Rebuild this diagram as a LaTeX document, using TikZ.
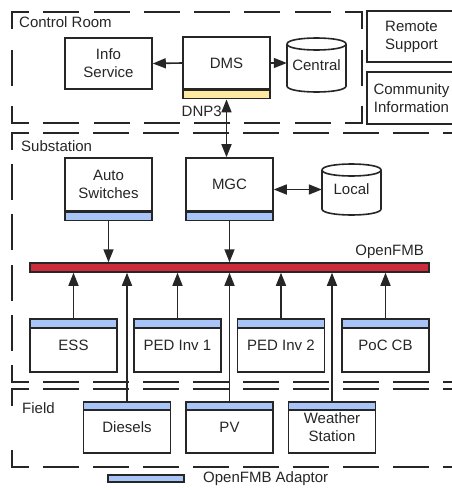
\documentclass[tikz,border=0pt]{standalone}
\usepackage{fontspec}
\setmainfont{Liberation Sans}
\usetikzlibrary{arrows.meta,calc}

\definecolor{bd}{HTML}{262626}
\definecolor{txt}{HTML}{262626}
\definecolor{adapt}{HTML}{A9C5F7}
\definecolor{dnpbar}{HTML}{FDE9A2}
\definecolor{busred}{HTML}{CC2B3B}

% one side of a dashed region frame: a short dash at each corner,
% full dashes in between, gaps stretched so both ends finish on a dash
\newcommand\dashside[4]{%
  \pgfmathsetmacro\rgLen{veclen(#3-#1,#4-#2)}%
  \pgfmathsetmacro\rgN{max(0,floor((\rgLen-32)/50))}%
  \pgfmathsetmacro\rgGap{(\rgLen-32-\rgN*34)/(\rgN+1)}%
  \draw[regionline, dash pattern=on 34pt off \rgGap pt, dash phase=18pt] (#1,#2) -- (#3,#4);%
}
\newcommand\regionframe[4]{%
  \dashside{#1}{#2}{#3}{#2}%
  \dashside{#1}{#2}{#1}{#4}%
  \dashside{#1}{#4}{#3}{#4}%
  \dashside{#3}{#2}{#3}{#4}%
}
% database drum between two corners (x1,y1) and (x2,y2)
\newcommand\drumshape[4]{%
  \draw[drum] (#1,#2+6) -- (#1,#4-6) .. controls (#1,#4+2) and (#3,#4+2) .. (#3,#4-6) -- (#3,#2+6);%
  \draw[drum] (#1,#2+6) .. controls (#1,#2-2) and (#3,#2-2) .. (#3,#2+6)
              .. controls (#3,#2+14) and (#1,#2+14) .. (#1,#2+6);%
}

\begin{document}
\begin{tikzpicture}[x=1pt,y=-1pt,
  every node/.style={font=\fontsize{15}{18}\selectfont, text=txt},
  regionline/.style={draw=bd, line width=2pt, line cap=rect},
  box/.style={draw=bd, fill=white, line width=1.6pt, inner sep=0pt,
              align=center, minimum width=87pt},
  bar/.style={draw=bd, line width=1.6pt, inner sep=0pt, minimum width=87pt,
              minimum height=8pt, fill=adapt},
  drum/.style={draw=bd, line width=1.6pt},
  tag/.style={inner sep=0pt},
  >={Triangle[length=13pt,width=10pt]},
  conn/.style={draw=bd, line width=1.6pt, ->},
  biconn/.style={draw=bd, line width=1.6pt, <->}
]
\useasboundingbox (0,0) rectangle (452,490);

% ---------- regions ----------
\regionframe{12}{12}{362}{123}
\regionframe{12}{133}{510}{382}
\regionframe{12}{389}{510}{467}
\node[tag, anchor=west] (lblcontrol) at (19,22) {Control Room};
\node[tag, anchor=west] (lblsub) at (21,146) {Substation};
\node[tag, anchor=west] (lblfield) at (22,408) {Field};

% ---------- outside services ----------
\node[box, minimum width=89pt, minimum height=51pt] (remote) at (411.5,36.5) {Remote\\Support};
\node[box, minimum width=89pt, minimum height=52pt] (community) at (411.5,98) {Community\\Information};

% ---------- control room ----------
\node[box, minimum height=51pt] (info) at (108.5,63.5) {Info\\Service};
\node[box, minimum height=52pt] (dms) at (226.5,63) {DMS};
\node[bar, fill=dnpbar, anchor=north] (dmsbar) at (dms.south) {};
\drumshape{287}{38}{346}{92}
\node[tag, minimum width=59pt, minimum height=54pt] (central) at (316.5,65) {Central};

% ---------- substation ----------
\node[box, minimum height=53pt] (auto) at (108.5,184.5) {Auto\\Switches};
\node[bar, anchor=north] (autobar) at (auto.south) {};
\node[box, minimum height=53pt] (mgc) at (229.5,184.5) {MGC};
\node[bar, anchor=north] (mgcbar) at (mgc.south) {};
\drumshape{322}{164}{381}{215}
\node[tag, minimum width=59pt, minimum height=51pt] (local) at (351.5,189.5) {Local};

% message bus
\node[draw=bd, line width=1.5pt, fill=busred, inner sep=0pt,
      minimum width=399pt, minimum height=9pt] (bus) at (229.5,267.5) {};
\node[tag, anchor=east] (lblbus) at (424,252) {OpenFMB};

% substation devices
\node[box, minimum height=53pt] (ess) at (73.5,345.5) {ESS};
\node[box, minimum height=53pt] (ped1) at (177.5,345.5) {PED Inv 1};
\node[box, minimum height=53pt] (ped2) at (281,345.5) {PED Inv 2};
\node[box, minimum height=53pt] (poc) at (385.5,345.5) {PoC CB};
\foreach \n in {ess,ped1,ped2,poc}
  \node[bar, minimum height=9pt, anchor=north] (\n bar) at (\n.north) {};

% ---------- field ----------
\node[box, minimum height=51pt] (diesels) at (127,427.5) {Diesels};
\node[box, minimum height=51pt] (pv) at (229.5,427.5) {PV};
\node[box, minimum height=51pt] (weather) at (332,427.5) {Weather\\Station};
\foreach \n in {diesels,pv,weather}
  \node[bar, anchor=north] (\n bar) at (\n.north) {};

% ---------- connectors ----------
\draw[conn] (dms.west) -- (info.east);
\draw[conn] (dms.east) -- (dms.east -| central.west);
\draw[biconn] (dmsbar.south) --
  node[pos=0.21, tag, anchor=east, xshift=-4pt] (lbldnp) {DNP3}
  (dmsbar.south |- mgc.north);
\draw[biconn] (mgc.east |- local.west) -- (local.west);
\draw[conn] (autobar.south) -- (autobar.south |- bus.north);
\draw[conn] (mgcbar.south) -- (mgcbar.south |- bus.north);
\foreach \n in {ess,ped1,ped2,poc,diesels,pv,weather}
  \draw[conn] (\n bar.north) -- (\n bar.north |- bus.south);

% ---------- legend ----------
\node[bar, minimum width=76pt, minimum height=7pt] (legendbar) at (146,478.5) {};
\node[tag, anchor=west] (legendtext) at (203,479) {OpenFMB Adaptor};
\end{tikzpicture}
\end{document}
